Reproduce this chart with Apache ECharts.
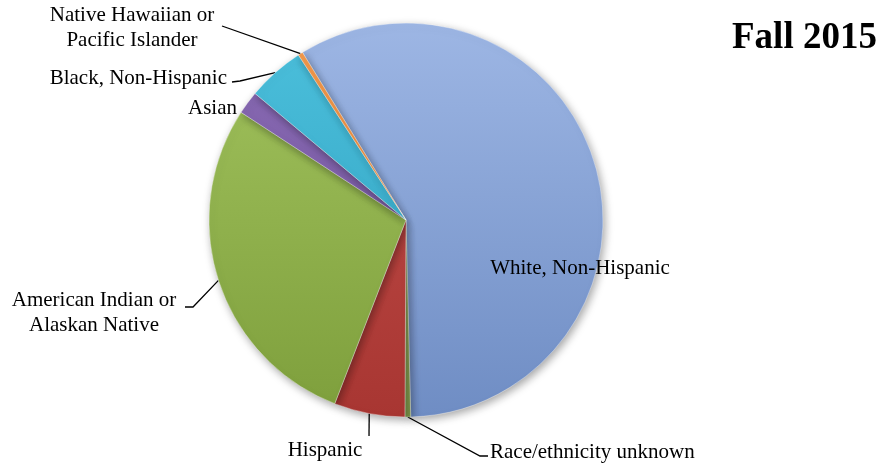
<!DOCTYPE html>
<html>
<head>
<meta charset="utf-8">
<script src="https://cdn.jsdelivr.net/npm/echarts@6/dist/echarts.min.js"></script>
<style>
html,body{margin:0;padding:0;background:#fff;}
#main{width:883px;height:464px;}
</style>
</head>
<body>
<div id="main"></div>
<script>
var categories = ['White, Non-Hispanic', 'Race/ethnicity unknown', 'Hispanic', 'American Indian or\nAlaskan Native', 'Asian', 'Black, Non-Hispanic', 'Native Hawaiian or\nPacific Islander'];
var values = [58.4, 0.47, 5.8, 28.3, 1.9, 4.7, 0.39];
var titleText = 'Fall 2015';

var topColors = ['#9db6e4', '#a3b86c', '#c4504c', '#a2c35e', '#8a6bb4', '#4cc0dc', '#f29a4e'];
var bottomColors = ['#6f8dc4', '#7f9a4c', '#a83632', '#7e9f3c', '#6e519a', '#2c9dbd', '#d87628'];

// label placement (layout only)
var labelPos = [
  {x: 580, y: 268, align: 'center', line: null},
  {x: 490, y: 452, align: 'left', line: [[480, 456], [488, 456]]},
  {x: 325, y: 450, align: 'center', line: [[369, 436], [369, 436]]},
  {x: 94, y: 313, align: 'center', line: [[193, 307], [185, 307]]},
  {x: 237, y: 108, align: 'right', line: null},
  {x: 227, y: 78, align: 'right', line: [[240, 81], [232, 82]]},
  {x: 132, y: 28, align: 'center', line: [[222, 26], [222, 26]]}
];

var data = categories.map(function (c, i) {
  return {
    name: c,
    value: values[i],
    itemStyle: {
      color: {
        type: 'linear', x: 0, y: 24, x2: 0, y2: 416, global: true,
        colorStops: [{offset: 0, color: topColors[i]}, {offset: 1, color: bottomColors[i]}]
      }
    },
    labelLine: {show: !!labelPos[i].line}
  };
});

var chart = echarts.init(document.getElementById('main'), null, {renderer: 'canvas'});
chart.setOption({
  animation: false,
  backgroundColor: '#ffffff',
  title: {
    text: titleText,
    left: 727,
    top: 15,
    textStyle: {fontFamily: 'Liberation Serif', fontWeight: 'bold', fontSize: 37, color: '#000'}
  },
  series: [{
    type: 'pie',
    center: [406, 220],
    radius: [0, 197],
    startAngle: 121.7,
    clockwise: true,
    avoidLabelOverlap: false,
    minAngle: 0,
    data: data,
    itemStyle: {
      borderColor: 'rgba(255,255,255,0.35)',
      borderWidth: 1,
      shadowBlur: 8,
      shadowColor: 'rgba(0,0,0,0.35)',
      shadowOffsetX: 2,
      shadowOffsetY: 3
    },
    label: {
      show: true,
      position: 'outside',
      formatter: '{b}',
      fontFamily: 'Liberation Serif',
      fontSize: 21,
      lineHeight: 25,
      color: '#000'
    },
    labelLine: {
      show: true,
      lineStyle: {color: '#000', width: 1.3}
    },
    emphasis: {disabled: true},
    labelLayout: function (params) {
      var p = labelPos[params.dataIndex];
      var out = {x: p.x, y: p.y, align: p.align, verticalAlign: 'middle'};
      if (p.line && params.labelLinePoints) {
        out.labelLinePoints = [params.labelLinePoints[0], p.line[0], p.line[1]];
      }
      return out;
    }
  }]
});
</script>
</body>
</html>
